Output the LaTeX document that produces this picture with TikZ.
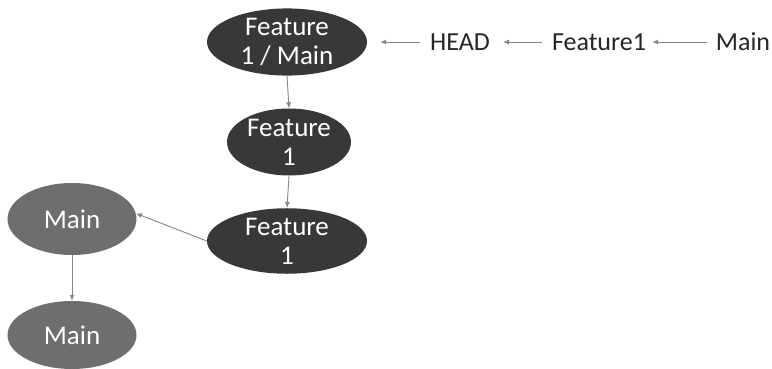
\documentclass[tikz,border=0pt]{standalone}
\usepackage{fontspec}
\setmainfont{Carlito}
\usetikzlibrary{shapes.geometric,arrows.meta}

\definecolor{darkcommit}{HTML}{383838}
\definecolor{maincommit}{HTML}{6E6E6E}
\definecolor{linkgray}{HTML}{858585}

\tikzset{
  commit/.style = {ellipse, fill=darkcommit, text=white, align=center,
    inner sep=0pt, minimum width=160pt, minimum height=66pt,
    font=\fontsize{27}{29}\selectfont},
  maincommit/.style = {commit, fill=maincommit,
    minimum width=129pt, minimum height=70pt},
  reflabel/.style = {inner sep=0pt, text=black!85,
    font=\fontsize{26}{28}\selectfont},
  link/.style = {draw=linkgray, line width=0.9pt,
    -{Latex[length=6pt,width=5pt]}}
}

\begin{document}
\begin{tikzpicture}[x=1pt, y=-1pt]
  \useasboundingbox (0,0) rectangle (772,369);

    % commits
    \node [commit] (fmain) at (287,42) {Feature\\1 / Main};
    \node [commit, minimum width=124pt, minimum height=67pt] (feat2) at (289,142) {Feature\\1};
    \node [commit, minimum height=64pt] (feat3) at (287,241) {Feature\\1};
    \node [maincommit, minimum height=72pt] (main1) at (72,219) {Main};
    \node [maincommit, minimum height=68pt] (main2) at (72,335) {Main};

    % references
    \node [reflabel] (head) at (460,42) {HEAD};
    \node [reflabel] (featref) at (599,42) {Feature1};
    \node [reflabel] (mainref) at (743,42) {Main};

    \draw [link] (fmain.south) -- (feat2.north);
    \draw [link] (feat2.south) -- (feat3.north);
    \draw [link] (feat3.west) -- (main1.5);
    \draw [link] (main1.south) -- (main2.north);

    \draw [link, shorten <=10pt, shorten >=13pt] (head.west) -- (fmain.east);
    \draw [link, shorten <=10pt, shorten >=13pt] (featref.west) -- (head.east);
    \draw [link, shorten <=9pt, shorten >=6pt] (mainref.west) -- (featref.east);

\end{tikzpicture}
\end{document}
